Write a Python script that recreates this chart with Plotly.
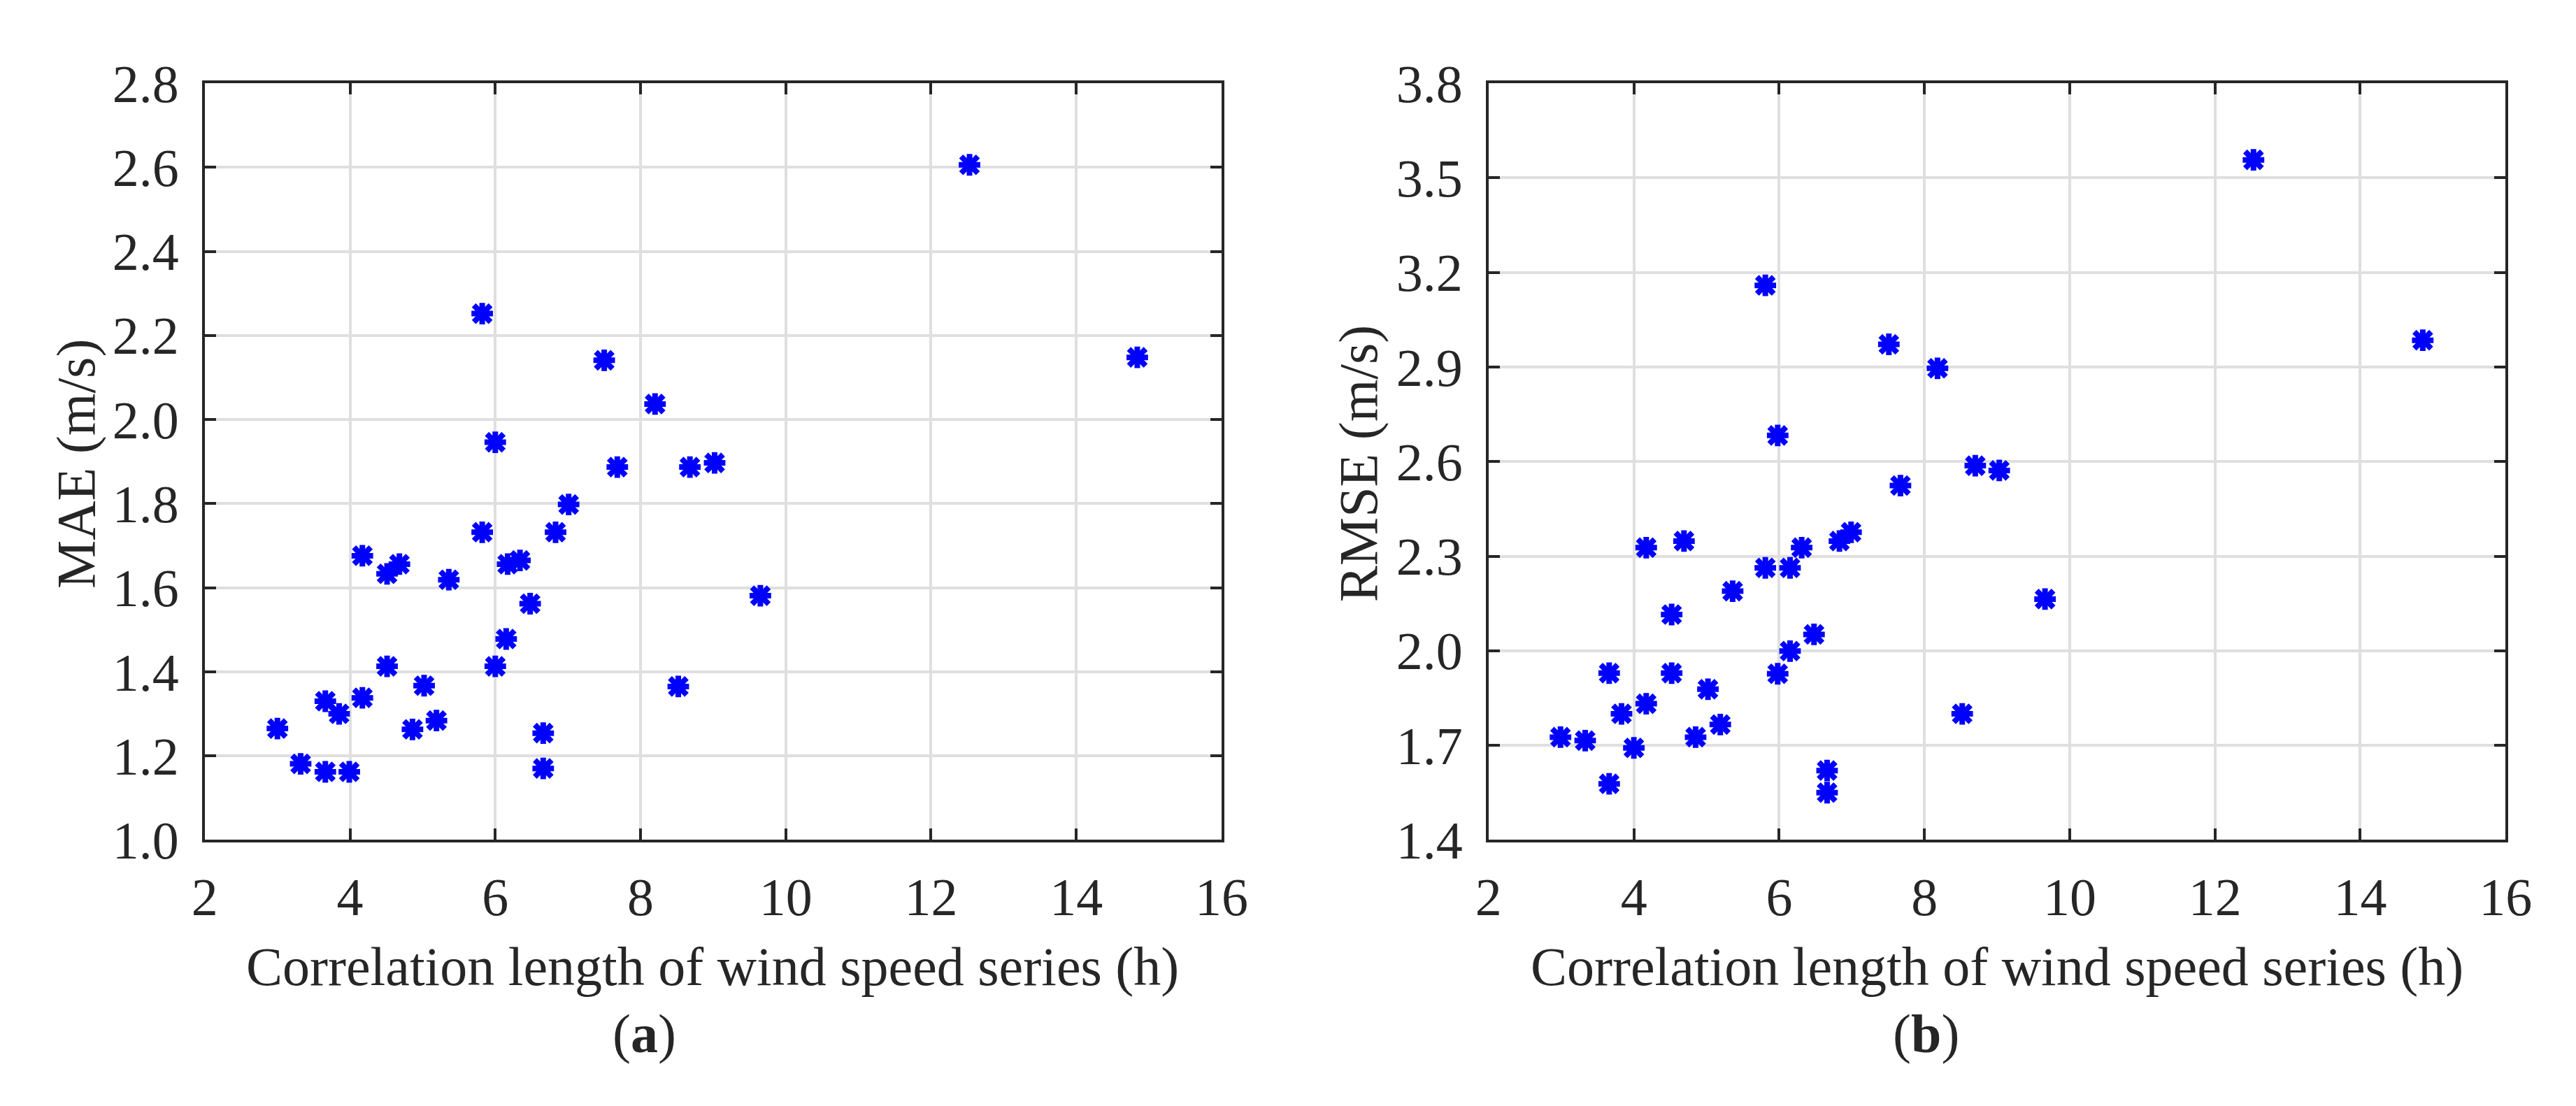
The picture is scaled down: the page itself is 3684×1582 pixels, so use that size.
import plotly.graph_objects as go

# correlation length (h) and errors
corr_len_a = [3.0, 3.32, 3.66, 3.66, 3.85, 3.99, 4.17, 4.17, 4.51, 4.51, 4.68, 4.86,
              5.02, 5.19, 5.36, 5.82, 5.82, 6.0, 6.0, 6.15, 6.17, 6.34, 6.48, 6.66,
              6.66, 6.83, 7.01, 7.5, 7.68, 8.2, 8.52, 8.68, 9.02, 9.65, 12.53, 14.84]
mae = [1.265, 1.181, 1.162, 1.330, 1.300, 1.162, 1.338, 1.676, 1.413, 1.633, 1.656, 1.263,
       1.367, 1.284, 1.619, 2.252, 1.732, 1.946, 1.413, 1.478, 1.656, 1.665, 1.562, 1.254,
       1.170, 1.732, 1.798, 2.141, 1.887, 2.037, 1.365, 1.887, 1.897, 1.581, 2.606, 2.148]

corr_len_b = [2.99, 3.33, 3.66, 3.66, 3.83, 4.0, 4.17, 4.17, 4.52, 4.52, 4.69, 4.85,
              5.02, 5.19, 5.36, 5.81, 5.81, 5.98, 5.98, 6.15, 6.15, 6.31, 6.48, 6.66,
              6.66, 6.83, 6.99, 7.51, 7.67, 8.18, 8.52, 8.70, 9.03, 9.66, 12.53, 14.86]
rmse = [1.726, 1.715, 1.578, 1.929, 1.800, 1.692, 1.832, 2.327, 2.115, 1.929, 2.348, 1.726,
        1.878, 1.766, 2.189, 3.159, 2.263, 2.683, 1.927, 1.999, 2.263, 2.327, 2.052, 1.62,
        1.55, 2.348, 2.376, 2.972, 2.524, 2.896, 1.80, 2.587, 2.572, 2.164, 3.557, 2.985]

x_title = "Correlation length of wind speed series (h)"
FONT = "Liberation Serif"
INK = "#262626"
BLUE = "#0000ff"

fig = go.Figure()
# matlab-style '*' marker: a thin x laid over a thin +
for xs, ys, xa, ya in [(corr_len_a, mae, "x", "y"), (corr_len_b, rmse, "x2", "y2")]:
    for sym, size in [("x-thin-open", 24), ("cross-thin-open", 22)]:
        fig.add_trace(go.Scatter(x=xs, y=ys, mode="markers", xaxis=xa, yaxis=ya,
                                 showlegend=False, hoverinfo="x+y",
                                 marker=dict(symbol=sym, size=size, color=BLUE,
                                             line=dict(width=8, color=BLUE))))

axis_style = dict(showline=True, mirror="ticks", linecolor=INK, linewidth=4,
                  ticks="inside", ticklen=16, tickwidth=4, tickcolor=INK,
                  showgrid=True, gridcolor="#dfdfdf", gridwidth=4, zeroline=False,
                  tickfont=dict(family=FONT, size=76, color=INK))

fig.update_layout(
    width=3684, height=1582,
    margin=dict(l=0, r=0, t=0, b=0),
    plot_bgcolor="white", paper_bgcolor="white",
    font=dict(family=FONT, color=INK),
    xaxis=dict(domain=[0.0733, 0.4742], range=[2, 16], tick0=2, dtick=2, anchor="y",
               ticklabelstandoff=12, **axis_style),
    yaxis=dict(domain=[0.2307, 0.9532], range=[1.0, 2.8], tick0=1.0, dtick=0.2,
               tickformat=".1f", anchor="x", ticklabelstandoff=18, **axis_style),
    xaxis2=dict(domain=[0.5795, 0.9805], range=[2, 16], tick0=2, dtick=2, anchor="y2",
                ticklabelstandoff=12, **axis_style),
    yaxis2=dict(domain=[0.2307, 0.9532], range=[1.4, 3.8], tick0=1.4, dtick=0.3,
                tickformat=".1f", anchor="x2", ticklabelstandoff=18, **axis_style),
)

labels = [
    (0.2736, 0.110, x_title, 0),
    (0.7800, 0.110, x_title, 0),
    (0.0223, 0.590, "MAE (m/s)", -90),
    (0.5280, 0.590, "RMSE (m/s)", -90),
    (0.2465, 0.0455, "(<b>a</b>)", 0),
    (0.7520, 0.0455, "(<b>b</b>)", 0),
]
for x, y, text, angle in labels:
    fig.add_annotation(x=x, y=y, xref="paper", yref="paper", text=text, textangle=angle,
                       showarrow=False, xanchor="center", yanchor="middle",
                       font=dict(family=FONT, size=78, color=INK))

fig.write_html("out.html")
